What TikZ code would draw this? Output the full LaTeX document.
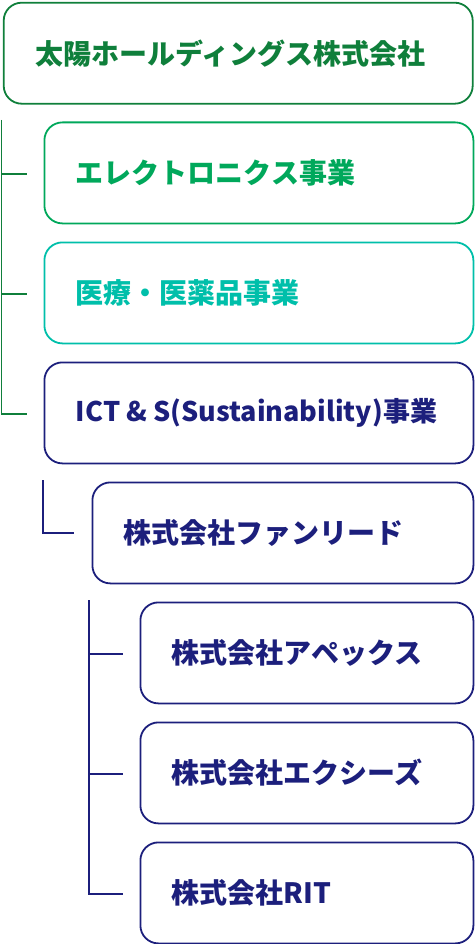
\documentclass[tikz,border=0pt]{standalone}
\usepackage{fontspec}
\setmainfont{Noto Sans CJK JP}
\definecolor{cHd}{HTML}{0F7F3B}
\definecolor{cEl}{HTML}{00A85B}
\definecolor{cMd}{HTML}{00BFAA}
\definecolor{cNv}{HTML}{1C1F7C}
\tikzset{
  box/.style={draw, rounded corners=18pt, line width=1.8pt, anchor=north west,
    minimum height=101pt, inner xsep=31.5pt, inner ysep=0pt, align=left,
    font=\fontsize{28}{32}\selectfont\bfseries},
  conn/.style={line width=1.8pt},
}
\begin{document}
\begin{tikzpicture}[x=1pt,y=-1pt]
\useasboundingbox (0,0) rectangle (474,944);
\node[box, draw=cHd, text=cHd, text width=406pt] (hd) at (2.8,1.8) {太陽ホールディングス株式会社};
\node[box, draw=cEl, text=cEl, text width=366pt] (el) at (43.5,121.5) {エレクトロニクス事業};
\node[box, draw=cMd, text=cMd, text width=366pt] (md) at (43.5,241.5) {医療・医薬品事業};
\node[box, draw=cNv, text=cNv, text width=366pt, font=\fontsize{27}{32}\selectfont\bfseries] (ict) at (43.5,361.5) {\mbox{ICT\hspace{6pt}\&\hspace{6pt}S(Sustainability)事業}};
\node[box, draw=cNv, text=cNv, text width=318pt] (fl) at (91.5,481.5) {株式会社ファンリード};
\node[box, draw=cNv, text=cNv, text width=270pt] (ap) at (139.5,601.5) {株式会社アペックス};
\node[box, draw=cNv, text=cNv, text width=270pt] (ex) at (139.5,721.5) {株式会社エクシーズ};
\node[box, draw=cNv, text=cNv, text width=270pt] (rit) at (139.5,841.5) {株式会社RIT};
% green connectors
\coordinate (gtop) at (1.5,120);
\draw[conn, cHd] (gtop) |- ([xshift=-17pt,yshift=-1pt]ict.west);
\draw[conn, cHd] ([xshift=-17pt,yshift=-1pt]el.west) -- ++(-25,0);
\draw[conn, cHd] ([xshift=-17pt,yshift=-1pt]md.west) -- ++(-25,0);
% navy L
\coordinate (ltop) at (43,480);
\draw[conn, cNv] (ltop) |- ([xshift=-18pt]fl.west);
% navy connectors
\coordinate (ntop) at (89,600);
\draw[conn, cNv] (ntop) |- ([xshift=-17pt,yshift=-1pt]rit.west);
\draw[conn, cNv] ([xshift=-17pt,yshift=-1pt]ap.west) -- ++(-33,0);
\draw[conn, cNv] ([xshift=-17pt,yshift=-1pt]ex.west) -- ++(-33,0);
\end{tikzpicture}
\end{document}
